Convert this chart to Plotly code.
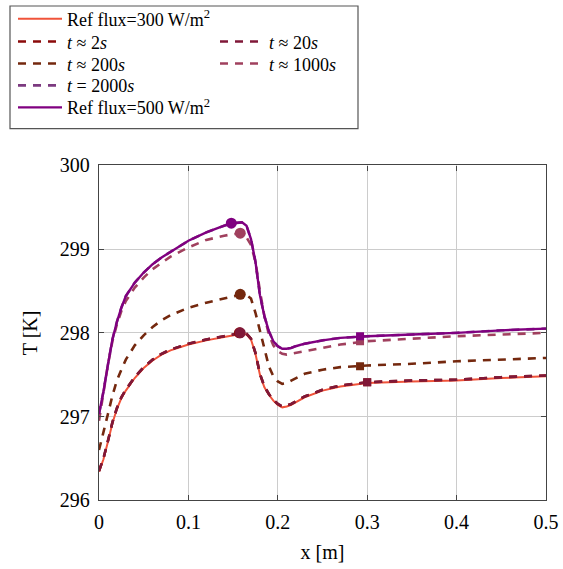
import plotly.graph_objects as go

# x positions along the plate [m]
x = [0, 0.005, 0.01, 0.015, 0.02, 0.025, 0.03, 0.04, 0.05, 0.06, 0.07, 0.08,
     0.1, 0.12, 0.14, 0.15, 0.16, 0.165, 0.17, 0.175, 0.18, 0.185, 0.19,
     0.195, 0.2, 0.205, 0.21, 0.215, 0.22, 0.23, 0.25, 0.27, 0.3, 0.35,
     0.4, 0.45, 0.5]

# temperatures [K]
ref_300 = [296.34, 296.49, 296.70, 296.92, 297.09, 297.22, 297.31, 297.46,
           297.58, 297.67, 297.74, 297.79, 297.86, 297.91, 297.95, 297.97,
           297.99, 297.98, 297.92, 297.75, 297.50, 297.35, 297.26, 297.19,
           297.14, 297.11, 297.12, 297.14, 297.17, 297.23, 297.31, 297.36,
           297.40, 297.42, 297.43, 297.46, 297.48]
t_2 = [296.35, 296.50, 296.71, 296.93, 297.10, 297.23, 297.32, 297.47,
       297.59, 297.68, 297.75, 297.80, 297.87, 297.92, 297.96, 297.98,
       298.00, 297.99, 297.93, 297.76, 297.51, 297.36, 297.27, 297.20,
       297.15, 297.12, 297.13, 297.15, 297.18, 297.24, 297.32, 297.37,
       297.41, 297.43, 297.44, 297.47, 297.49]
t_20 = [296.35, 296.50, 296.71, 296.93, 297.10, 297.23, 297.32, 297.47,
        297.59, 297.68, 297.75, 297.80, 297.87, 297.92, 297.96, 297.98,
        298.00, 297.99, 297.93, 297.76, 297.51, 297.36, 297.27, 297.20,
        297.15, 297.12, 297.13, 297.15, 297.18, 297.24, 297.32, 297.37,
        297.41, 297.43, 297.44, 297.47, 297.49]
t_200 = [296.60, 296.80, 297.03, 297.25, 297.43, 297.56, 297.68, 297.85,
         297.97, 298.07, 298.15, 298.21, 298.30, 298.36, 298.41, 298.44,
         298.46, 298.45, 298.41, 298.24, 298.02, 297.79, 297.60, 297.48,
         297.42, 297.39, 297.40, 297.43, 297.46, 297.51, 297.56, 297.59,
         297.61, 297.63, 297.66, 297.68, 297.70]
t_1000 = [296.95, 297.30, 297.62, 297.90, 298.10, 298.26, 298.38, 298.54,
          298.66, 298.76, 298.84, 298.91, 299.02, 299.11, 299.16, 299.18,
          299.19, 299.14, 299.05, 298.85, 298.50, 298.20, 297.98, 297.85,
          297.78, 297.75, 297.74, 297.75, 297.76, 297.78, 297.82, 297.86,
          297.90, 297.93, 297.96, 297.98, 298.00]
t_2000 = [297.03, 297.30, 297.62, 297.92, 298.13, 298.30, 298.44, 298.60,
          298.72, 298.82, 298.90, 298.97, 299.10, 299.20, 299.28, 299.31,
          299.32, 299.28, 299.12, 298.85, 298.45, 298.20, 298.02, 297.90,
          297.84, 297.81, 297.81, 297.82, 297.84, 297.87, 297.91, 297.94,
          297.96, 297.98, 298.00, 298.03, 298.05]
ref_500 = [297.03, 297.30, 297.62, 297.92, 298.13, 298.30, 298.44, 298.60,
           298.72, 298.82, 298.90, 298.97, 299.10, 299.20, 299.28, 299.31,
           299.32, 299.28, 299.12, 298.85, 298.45, 298.20, 298.02, 297.90,
           297.84, 297.81, 297.81, 297.82, 297.84, 297.87, 297.91, 297.94,
           297.96, 297.98, 298.00, 298.03, 298.05]

# probe markers: circles near the peak, squares downstream
circle_x = [0.157, 0.158, 0.158, 0.158, 0.148]
circle_y = [298.00, 298.00, 298.46, 299.19, 299.31]
square_x = [0.300, 0.300, 0.292, 0.292, 0.292]
square_y = [297.41, 297.41, 297.60, 297.90, 297.96]

names = ["Ref flux=300 W/m<sup>2</sup>", "<i>t</i> ≈ 2<i>s</i>",
         "<i>t</i> ≈ 20<i>s</i>", "<i>t</i> ≈ 200<i>s</i>",
         "<i>t</i> ≈ 1000<i>s</i>", "<i>t</i> = 2000<i>s</i>",
         "Ref flux=500 W/m<sup>2</sup>"]
series = [ref_300, t_2, t_20, t_200, t_1000, t_2000, ref_500]
colors = ["#f0533a", "#8b0a0a", "#801838", "#74280e", "#a0405e", "#7c3a80", "#800080"]
dashes = ["solid", "8px,7px", "8px,7px", "8px,7px", "8px,7px", "8px,7px", "solid"]
widths = [2.0, 2.6, 2.6, 2.6, 2.6, 2.6, 2.4]
marker_colors = ["#8b0a0a", "#801838", "#74280e", "#a0405e", "#800080"]

W, H = 563, 569
# plot box in pixels: left, right, top, bottom
PL, PR, PT, PB = 99, 546, 164, 500

# legend slots (pixel coords of the line sample start and row centre)
legend_px = [(18, 17), (18, 40), (220, 40), (18, 62), (220, 62), (18, 84), (18, 106)]

fig = go.Figure()
for i, (nm, ys) in enumerate(zip(names, series)):
    lg = "legend" if i == 0 else f"legend{i + 1}"
    fig.add_trace(go.Scatter(
        x=x, y=ys, mode="lines", name=nm, legend=lg,
        line=dict(color=colors[i], width=widths[i], dash=dashes[i]),
    ))

fig.add_trace(go.Scatter(
    x=circle_x, y=circle_y, mode="markers", showlegend=False,
    marker=dict(symbol="circle", size=11, color=marker_colors),
))
fig.add_trace(go.Scatter(
    x=square_x, y=square_y, mode="markers", showlegend=False,
    marker=dict(symbol="square", size=8, color=marker_colors),
))

serif = "Liberation Serif"
legend_font = dict(family=serif, size=18, color="black")
for i, (px, py) in enumerate(legend_px):
    key = "legend" if i == 0 else f"legend{i + 1}"
    fig.update_layout({key: dict(
        x=(px - 5) / W, y=(H - py) / H,
        xanchor="left", yanchor="middle", itemwidth=44,
        bgcolor="rgba(0,0,0,0)", borderwidth=0, font=legend_font,
    )})

# legend frame
fig.add_shape(type="rect", xref="paper", yref="paper",
              x0=10 / W, x1=358 / W, y0=(H - 127) / H, y1=(H - 4) / H,
              line=dict(color="#555555", width=1.2))

axis_common = dict(
    showline=True, mirror="ticks", linecolor="#444444", linewidth=1.3,
    ticks="inside", ticklen=5, tickcolor="#444444", ticklabelstandoff=4,
    showgrid=True, gridcolor="#cccccc", gridwidth=1, zeroline=False,
    automargin=False, tickfont=dict(family=serif, size=20, color="black"),
)
fig.update_xaxes(range=[0, 0.5], tickvals=[0, 0.1, 0.2, 0.3, 0.4, 0.5],
                 ticktext=["0", "0.1", "0.2", "0.3", "0.4", "0.5"],
                 domain=[PL / W, PR / W],
                 title=dict(text="x [m]", standoff=12,
                            font=dict(family=serif, size=20, color="black")),
                 **axis_common)
fig.update_yaxes(range=[296, 300], dtick=1,
                 domain=[(H - PB) / H, (H - PT) / H],
                 title=dict(text="T [K]", standoff=16,
                            font=dict(family=serif, size=20, color="black")),
                 **axis_common)

fig.update_layout(
    width=W, height=H,
    margin=dict(l=0, r=0, t=0, b=0),
    plot_bgcolor="white", paper_bgcolor="white",
)

fig.write_html("out.html", config={"displayModeBar": False},
               post_script="document.body.style.margin='0';")
